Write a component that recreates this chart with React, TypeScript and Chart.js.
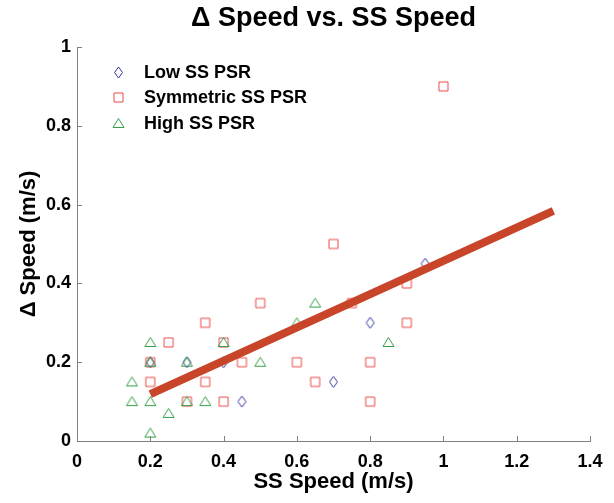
import React, { useEffect, useRef } from "react";
import { Chart, registerables } from "chart.js";

Chart.register(...registerables);

const titleText = "\u0394 Speed vs. SS Speed";
const xTitle = "SS Speed (m/s)";
const yTitle = "\u0394 Speed (m/s)";

const xTicks = [0, 0.2, 0.4, 0.6, 0.8, 1, 1.2, 1.4];
const yTicks = [0, 0.2, 0.4, 0.6, 0.8, 1];

const seriesNames = ["Low SS PSR", "Symmetric SS PSR", "High SS PSR"];

const lowX = [0.2, 0.3, 0.4, 0.45, 0.7, 0.8, 0.95];
const lowY = [0.2, 0.2, 0.2, 0.1, 0.15, 0.3, 0.45];

const symX = [0.2, 0.2, 0.25, 0.3, 0.35, 0.35, 0.4, 0.4, 0.45, 0.5, 0.6, 0.65, 0.7, 0.75, 0.8, 0.8, 0.9, 0.9, 1.0];
const symY = [0.2, 0.15, 0.25, 0.1, 0.3, 0.15, 0.25, 0.1, 0.2, 0.35, 0.2, 0.15, 0.5, 0.35, 0.2, 0.1, 0.4, 0.3, 0.9];

const highX = [0.15, 0.15, 0.2, 0.2, 0.2, 0.2, 0.25, 0.3, 0.3, 0.35, 0.4, 0.5, 0.6, 0.65, 0.85];
const highY = [0.15, 0.1, 0.25, 0.2, 0.1, 0.02, 0.07, 0.2, 0.1, 0.1, 0.25, 0.2, 0.3, 0.35, 0.25];

const fitX = [0.2, 1.3];
const fitY = [0.119, 0.584];

const FONT = "'Liberation Sans', Arial, Helvetica, sans-serif";
const colLow = "#33339e";
const colSym = "#ea4a46";
const colHigh = "#35a04a";
const colFit = "#c8452a";
const axisCol = "#808080";

function makeMarker(kind: string, color: string): HTMLCanvasElement {
  const c = document.createElement("canvas");
  const s = 15;
  c.width = s;
  c.height = s;
  const ctx = c.getContext("2d")!;
  ctx.strokeStyle = color;
  ctx.lineWidth = 1;
  ctx.beginPath();
  const m = s / 2;
  if (kind === "diamond") {
    ctx.moveTo(m, m - 5.5);
    ctx.lineTo(m + 4, m);
    ctx.lineTo(m, m + 5.5);
    ctx.lineTo(m - 4, m);
    ctx.closePath();
  } else if (kind === "square") {
    ctx.rect(m - 4.5, m - 4.5, 9, 9);
  } else {
    ctx.moveTo(m, m - 5);
    ctx.lineTo(m + 5.5, m + 4);
    ctx.lineTo(m - 5.5, m + 4);
    ctx.closePath();
  }
  ctx.stroke();
  return c;
}

const toPts = (xs: number[], ys: number[]) => xs.map((x, i) => ({ x, y: ys[i] }));

export default function App() {
  const ref = useRef<HTMLCanvasElement | null>(null);
  useEffect(() => {
    if (!ref.current) return;
    const mLow = makeMarker("diamond", colLow);
    const mSym = makeMarker("square", colSym);
    const mHigh = makeMarker("triangle", colHigh);
    const markers = [mLow, mSym, mHigh];

    const inwardTicks = {
      id: "inwardTicks",
      afterDraw(chart: any) {
        const { ctx, chartArea } = chart;
        const xs = chart.scales.x;
        const ys = chart.scales.y;
        ctx.save();
        ctx.strokeStyle = axisCol;
        ctx.lineWidth = 1;
        ctx.beginPath();
        xTicks.forEach((v) => {
          const px = Math.round(xs.getPixelForValue(v)) + 0.5;
          ctx.moveTo(px, chartArea.bottom);
          ctx.lineTo(px, chartArea.bottom - 5);
        });
        yTicks.forEach((v) => {
          const py = Math.round(ys.getPixelForValue(v)) + 0.5;
          ctx.moveTo(chartArea.left, py);
          ctx.lineTo(chartArea.left + 5, py);
        });
        ctx.stroke();
        // legend
        ctx.font = `bold 18px ${FONT}`;
        ctx.fillStyle = "#000";
        ctx.textBaseline = "middle";
        ctx.textAlign = "left";
        seriesNames.forEach((name, i) => {
          const y = chartArea.top + 25 + i * 25.5;
          const mk = markers[i];
          ctx.drawImage(mk, Math.round(chartArea.left + 41 - mk.width / 2), Math.round(y - mk.height / 2));
          ctx.fillText(name, chartArea.left + 67, y + 1);
        });
        ctx.restore();
      },
    };

    const chart = new Chart(ref.current, {
      type: "scatter",
      data: {
        datasets: [
          {
            type: "line",
            label: "fit",
            data: toPts(fitX, fitY),
            borderColor: colFit,
            borderWidth: 8,
            pointRadius: 0,
            fill: false,
            order: 0,
          },
          {
            label: seriesNames[2],
            data: toPts(highX, highY),
            pointStyle: mHigh,
            order: 1,
          },
          {
            label: seriesNames[1],
            data: toPts(symX, symY),
            pointStyle: mSym,
            order: 2,
          },
          {
            label: seriesNames[0],
            data: toPts(lowX, lowY),
            pointStyle: mLow,
            order: 3,
          },
        ] as any,
      },
      options: {
        responsive: false,
        animation: false,
        events: [],
        layout: { padding: { left: 0, right: 24, top: 0, bottom: 0 } },
        plugins: {
          legend: { display: false },
          tooltip: { enabled: false },
          title: {
            display: true,
            fullSize: false,
            text: titleText,
            color: "#000",
            font: { family: FONT, size: 27, weight: "bold" },
            padding: { top: 2, bottom: 12.6 },
          },
        },
        scales: {
          x: {
            type: "linear",
            min: 0,
            max: 1.4,
            afterBuildTicks: (s: any) => {
              s.ticks = xTicks.map((v) => ({ value: v }));
            },
            afterFit: (s: any) => {
              s.height = 62;
            },
            grid: { display: false, drawTicks: false },
            border: { display: true, color: axisCol, width: 1 },
            ticks: {
              color: "#000",
              padding: 10,
              font: { family: FONT, size: 18, weight: "bold" },
              callback: (v: any) => String(v),
              maxRotation: 0,
              autoSkip: false,
            },
            title: {
              display: true,
              text: xTitle,
              color: "#000",
              font: { family: FONT, size: 22, weight: "bold" },
              padding: { top: 0, bottom: 8 },
            },
          },
          y: {
            type: "linear",
            min: 0,
            max: 1,
            afterBuildTicks: (s: any) => {
              s.ticks = yTicks.map((v) => ({ value: v }));
            },
            afterFit: (s: any) => {
              s.width = 77;
            },
            grid: { display: false, drawTicks: false },
            border: { display: true, color: axisCol, width: 1 },
            ticks: {
              color: "#000",
              padding: 6,
              font: { family: FONT, size: 18, weight: "bold" },
              callback: (v: any) => String(v),
              autoSkip: false,
            },
            title: {
              display: true,
              text: yTitle,
              color: "#000",
              font: { family: FONT, size: 22, weight: "bold" },
              padding: { top: 16, bottom: 0 },
            },
          },
        },
      } as any,
      plugins: [inwardTicks],
    });
    return () => chart.destroy();
  }, []);
  return (
    <div style={{ position: "fixed", left: 0, top: 0, width: 614, height: 503, background: "#fff" }}>
      <canvas ref={ref} width={614} height={503} style={{ display: "block" }} />
    </div>
  );
}
